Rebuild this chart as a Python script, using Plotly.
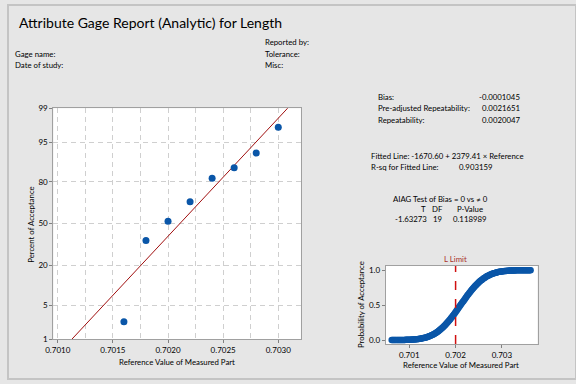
import numpy as np
import plotly.graph_objects as go
from statistics import NormalDist

ND = NormalDist()

# ---------------- data ----------------
ref_values = [0.7016, 0.7018, 0.7020, 0.7022, 0.7024, 0.7026, 0.7028, 0.7030]
pct_accept = [2.4, 36.7, 52.0, 67.0, 82.0, 87.0, 92.3, 97.4]
fit_intercept = -1670.60
fit_slope = 2379.41
prob_tick_labels = [1, 5, 20, 50, 80, 95, 99]
lower_limit = 0.702
curve_x_range = [0.70062, 0.70362]

# ---------------- helpers ----------------
W, H = 576, 384
def px(x): return x / W
def py(y): return 1 - y / H

FONT = "Lato"
TXT = "#000000"
BLUE = "#0a56a8"
SM = 7.8

z_pts = [ND.inv_cdf(p / 100) for p in pct_accept]
line_x = np.linspace(0.7009, 0.7033, 50)
line_z = fit_intercept + fit_slope * line_x
curve_x = np.linspace(curve_x_range[0], curve_x_range[1], 160)
curve_p = [ND.cdf(fit_intercept + fit_slope * v) for v in curve_x]

fig = go.Figure()
fig.add_trace(go.Scatter(x=line_x, y=line_z, mode="lines",
                         line=dict(color="#a00f0f", width=1), xaxis="x", yaxis="y",
                         showlegend=False, hoverinfo="skip"))
fig.add_trace(go.Scatter(x=ref_values, y=z_pts, mode="markers",
                         marker=dict(color=BLUE, size=7), xaxis="x", yaxis="y",
                         showlegend=False))
fig.add_trace(go.Scatter(x=curve_x, y=curve_p, mode="markers",
                         marker=dict(color=BLUE, size=6.5, symbol="circle"),
                         xaxis="x2", yaxis="y2", showlegend=False))

zlo, zhi = ND.inv_cdf(0.01), ND.inv_cdf(0.99)
axis_common = dict(showline=True, linecolor="#a0a0a0", linewidth=1, mirror=True,
                   ticks="outside", ticklen=3, tickcolor="#808080",
                   tickfont=dict(family=FONT, size=8, color=TXT), zeroline=False)
GRID = dict(showgrid=True, gridcolor="#cfcfcf", griddash="5px,4px", gridwidth=1)

fig.update_layout(
    width=W, height=H, margin=dict(l=0, r=0, t=0, b=0),
    paper_bgcolor="#e6e6e6", plot_bgcolor="white",
    xaxis=dict(domain=[px(46), px(297)], range=[0.70096, 0.703205],
               tickvals=[0.7010, 0.7015, 0.7020, 0.7025, 0.7030],
               ticktext=["0.7010", "0.7015", "0.7020", "0.7025", "0.7030"],
               minor=dict(dtick=0.00025, tick0=0.7010, showgrid=True,
                          gridcolor="#cfcfcf", griddash="5px,4px", ticks=""),
               anchor="y", **GRID, **axis_common),
    yaxis=dict(domain=[py(343), py(106)], range=[zlo, zhi],
               tickvals=[ND.inv_cdf(v / 100) for v in prob_tick_labels],
               ticktext=[str(v) for v in prob_tick_labels],
               anchor="x", **GRID, **axis_common),
    xaxis2=dict(domain=[px(383), px(537)], range=[0.70049, 0.70377],
                tickvals=[0.701, 0.702, 0.703], ticktext=["0.701", "0.702", "0.703"],
                showgrid=False, anchor="y2", **axis_common),
    yaxis2=dict(domain=[py(348), py(268)], range=[-0.056, 1.06],
                tickvals=[0.0, 0.5, 1.0], ticktext=["0.0", "0.5", "1.0"],
                showgrid=False, anchor="x2", **axis_common),
)

fig.add_shape(type="line", xref="x2", yref="y2", x0=lower_limit, x1=lower_limit,
              y0=-0.056, y1=1.06, line=dict(color="#d01010", width=1.5, dash="dash"))
fig.add_shape(type="rect", xref="paper", yref="paper", x0=0, x1=1, y0=0, y1=1,
              line=dict(color="#c4c4c4", width=2), layer="below")

def txt(x, y, s, size=SM, anchor="left", color=TXT, angle=0):
    fig.add_annotation(xref="paper", yref="paper", x=px(x), y=py(y), text=s,
                       showarrow=False, xanchor=anchor, yanchor="middle",
                       textangle=angle, borderpad=0, borderwidth=0,
                       font=dict(family=FONT, size=size, color=color))

txt(11, 18, "Attribute Gage Report (Analytic) for Length", size=14)
txt(7, 50, "Gage name:")
txt(7, 62, "Date of study:")
txt(261, 38, "Reported by:")
txt(261, 50, "Tolerance:")
txt(261, 62, "Misc:")

txt(375, 94, "Bias:")
txt(519, 94, "-0.0001045", anchor="right")
txt(375, 106, "Pre-adjusted Repeatability:")
txt(519, 106, "0.0021651", anchor="right")
txt(375, 118, "Repeatability:")
txt(519, 118, "0.0020047", anchor="right")

txt(368, 155, f"Fitted Line: {fit_intercept:.2f} + {fit_slope:.2f} × Reference")
txt(368, 166, "R-sq for Fitted Line:")
txt(457, 166, "0.903159")

txt(439, 199, "AIAG Test of Bias = 0 vs ≠ 0", anchor="center")
txt(421, 209, "T", anchor="center")
txt(436, 209, "DF", anchor="center")
txt(468, 209, "P-Value", anchor="center")
txt(409, 220, "-1.63273", anchor="center")
txt(436, 220, "19", anchor="center")
txt(468, 220, "0.118989", anchor="center")

txt(23, 225, "Percent of Acceptance", anchor="center", angle=-90)
txt(171, 367, "Reference Value of Measured Part", anchor="center")
txt(358, 308, "Probability of Acceptance", anchor="center", angle=-90)
txt(459, 370, "Reference Value of Measured Part", anchor="center")
txt(454, 261, "L Limit", anchor="center", color="#a8322a")

fig.write_html("out.html", config={"displayModeBar": False},
               post_script="document.body.style.margin='0';document.body.style.overflow='hidden';")
